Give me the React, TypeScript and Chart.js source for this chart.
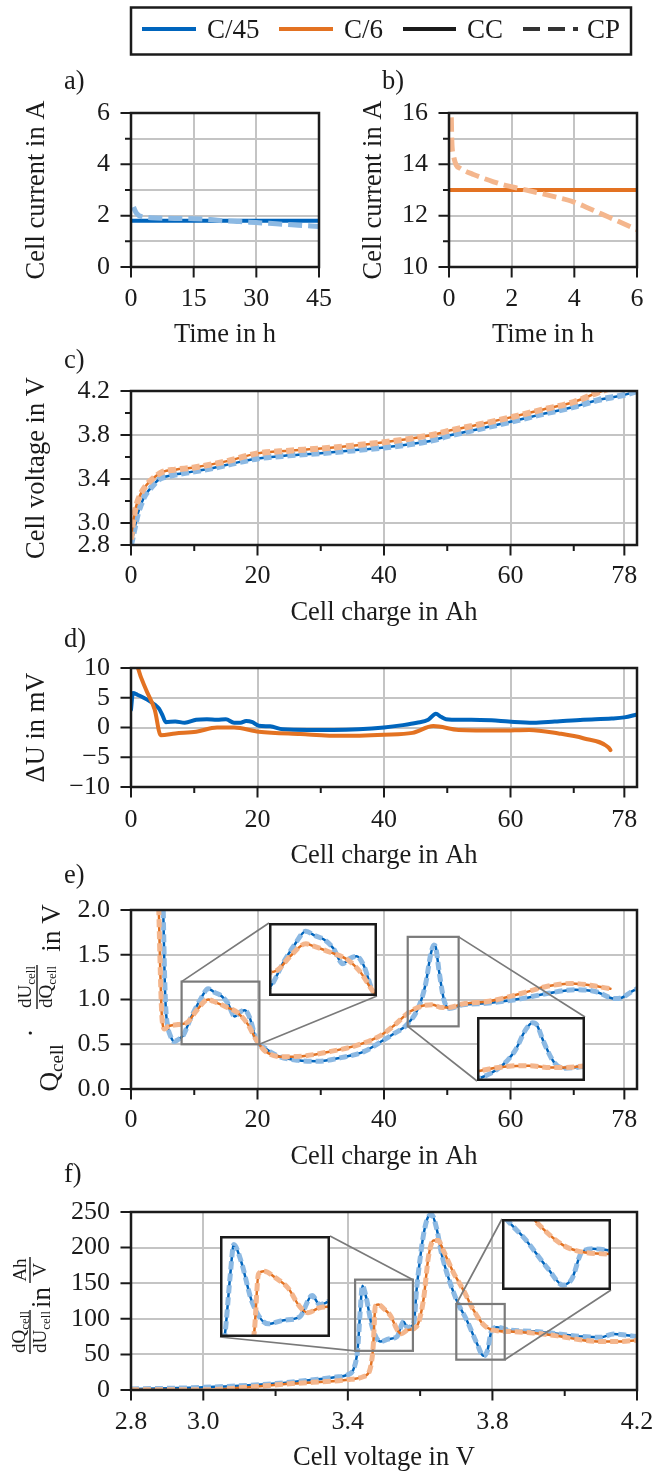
import React, { useEffect, useRef } from 'react';
import { Chart, registerables } from 'chart.js';

Chart.register(...registerables);

/* ================= data ================= */
// a) C/45: cell current (A) vs time (h)
const aTimeCC = [0, 45];
const aCurrentCC = [1.8, 1.8];
const aTimeCP = [0.6, 1.2, 1.8, 2.4, 3.5, 4.8, 8, 12, 15, 19, 22.3, 26, 29.9, 33, 36.7, 40, 43, 45];
const aCurrentCP = [2.34, 2.12, 2.02, 1.97, 1.94, 1.92, 1.9, 1.89, 1.88, 1.85, 1.8, 1.77, 1.73, 1.7, 1.66, 1.63, 1.6, 1.58];

// b) C/6: cell current (A) vs time (h)
const bTimeCC = [0, 6];
const bCurrentCC = [13, 13];
const bTimeCP = [0.05, 0.07, 0.09, 0.15, 0.23, 0.35, 0.49, 0.75, 1.0, 1.42, 1.8, 2.2, 2.6, 3.0, 3.5, 3.95, 4.4, 4.88, 5.4, 6.0];
const bCurrentCP = [16.6, 16.0, 14.9, 14.3, 13.97, 13.85, 13.75, 13.62, 13.5, 13.32, 13.18, 13.07, 12.96, 12.85, 12.7, 12.55, 12.32, 12.06, 11.78, 11.45];

// c) cell voltage (V) vs cell charge (Ah)
const cChargeC45 = [0, 0.3, 0.6, 1.1, 1.6, 2.1, 3.0, 3.75, 4.5, 5.4, 7, 9.7, 13, 16, 20, 25, 30, 35, 40, 44, 47.8, 50, 55, 60, 65, 70, 74, 78, 80];
const cVoltC45 = [2.8, 2.88, 2.96, 3.09, 3.17, 3.24, 3.31, 3.36, 3.4, 3.42, 3.44, 3.467, 3.5, 3.54, 3.587, 3.615, 3.635, 3.66, 3.687, 3.715, 3.753, 3.79, 3.855, 3.92, 3.99, 4.055, 4.12, 4.165, 4.2];
const cChargeC6 = [0, 0.3, 0.6, 1.0, 1.5, 2.0, 3.0, 4.0, 5.0, 7, 10, 15, 20, 25, 30, 35, 40, 44, 46, 48, 50, 55, 60, 65, 70, 74, 76];
const cVoltC6 = [2.85, 3.0, 3.1, 3.19, 3.26, 3.31, 3.38, 3.43, 3.465, 3.485, 3.505, 3.56, 3.633, 3.657, 3.677, 3.703, 3.735, 3.765, 3.785, 3.805, 3.835, 3.895, 3.96, 4.03, 4.1, 4.19, 4.23];

// d) ΔU (mV) vs cell charge (Ah)
const dChargeC45 = [0, 0.3, 1, 2, 3, 3.8, 4.4, 5.0, 5.5, 7, 8.5, 10.3, 12, 13.6, 15, 16.3, 17.3, 18.2, 19.2, 20.2, 22, 24, 28, 32, 36, 40, 43, 45.2, 47, 48.2, 49, 49.8, 52, 53.8, 57, 59.7, 63.6, 67, 71.5, 76, 78, 80];
const dDeltaC45 = [3.0, 5.8, 5.5, 5.0, 4.4, 3.8, 3.2, 2.0, 0.9, 1.0, 0.8, 1.3, 1.4, 1.3, 1.4, 0.8, 0.8, 1.1, 0.9, 0.3, 0.2, -0.3, -0.4, -0.4, -0.3, 0.0, 0.4, 0.8, 1.3, 2.3, 1.8, 1.4, 1.3, 1.3, 1.2, 1.0, 0.8, 1.0, 1.3, 1.5, 1.7, 2.2];
const dChargeC6 = [0.8, 1.1, 2.4, 3.75, 4.7, 7, 10.3, 13.6, 16.3, 20.2, 26.8, 33.4, 40, 44.5, 47.8, 51.8, 58.4, 63, 67.6, 71.5, 75.5, 75.8];
const dDeltaC6 = [11.5, 10, 6.3, 3.0, -1.3, -1.0, -0.7, 0.0, 0.0, -0.7, -1.1, -1.4, -1.2, -0.9, 0.25, -0.4, -0.5, -0.4, -1.0, -1.8, -3.35, -3.8];

// e) Q·dU/dQ (V) vs cell charge (Ah)
const eChargeC45 = [5.0, 5.1, 5.3, 5.5, 5.8, 6.2, 6.8, 7.4, 8.25, 9.56, 10.9, 12.2, 13.2, 14.3, 15.3, 16.4, 17.2, 18.0, 18.8, 19.8, 21.1, 23.2, 26.4, 29.5, 33.2, 36.9, 40, 41.6, 43.5, 45.5, 46.6, 47.4, 47.9, 48.2, 48.7, 49.5, 50.3, 52.4, 56.6, 61.8, 66, 70.2, 73.4, 76.5, 77.6, 79.2, 80];
const eValueC45 = [2.4, 2.0, 1.3, 0.9, 0.7, 0.6, 0.53, 0.55, 0.6, 0.81, 0.99, 1.12, 1.08, 1.04, 0.96, 0.81, 0.86, 0.88, 0.79, 0.55, 0.46, 0.37, 0.32, 0.31, 0.35, 0.42, 0.55, 0.62, 0.71, 0.92, 1.18, 1.51, 1.61, 1.58, 1.32, 0.99, 0.9, 0.94, 0.96, 1.01, 1.07, 1.11, 1.09, 1.01, 1.02, 1.09, 1.12];
const eChargeC6 = [4.3, 4.6, 4.85, 5.1, 5.3, 5.9, 7.46, 9.0, 10.4, 12.2, 13.0, 14.95, 16.9, 18.4, 19.8, 21.1, 23.7, 27.4, 31.6, 35.8, 39.5, 41.6, 44, 46.1, 47.6, 49.2, 50.3, 52.4, 56.6, 61.8, 66, 69.7, 73.4, 75.8];
const eValueC6 = [2.3, 1.4, 0.85, 0.69, 0.67, 0.7, 0.72, 0.75, 0.88, 1.0, 0.98, 0.92, 0.85, 0.73, 0.55, 0.43, 0.36, 0.37, 0.42, 0.49, 0.6, 0.71, 0.86, 0.93, 0.94, 0.91, 0.91, 0.95, 0.98, 1.07, 1.15, 1.18, 1.15, 1.12];

// f) dQ/dU (Ah/V) vs cell voltage (V)
const fVoltC45 = [2.8, 3.0, 3.2, 3.305, 3.363, 3.4, 3.415, 3.427, 3.435, 3.44, 3.45, 3.467, 3.49, 3.513, 3.536, 3.554, 3.565, 3.577, 3.583, 3.59, 3.6, 3.61, 3.622, 3.632, 3.645, 3.66, 3.7, 3.729, 3.757, 3.775, 3.786, 3.798, 3.812, 3.85, 3.913, 3.98, 4.05, 4.1, 4.135, 4.17, 4.2];
const fDqduC45 = [1.4, 3.7, 9, 14.5, 18, 21.5, 28.5, 57, 117, 146.5, 131.5, 89, 68, 71.6, 75, 96, 87, 90, 95, 140, 185, 220, 243, 246, 228, 190, 127, 98, 65.5, 48, 55, 84, 88, 84, 82.5, 79, 75, 74, 78.6, 77, 75];
const fVoltC6 = [2.8, 2.9, 3.016, 3.1, 3.247, 3.4, 3.444, 3.461, 3.47, 3.476, 3.484, 3.502, 3.519, 3.536, 3.548, 3.565, 3.59, 3.609, 3.623, 3.637, 3.65, 3.664, 3.692, 3.72, 3.747, 3.775, 3.802, 3.85, 3.913, 3.98, 4.05, 4.1, 4.15, 4.2];
const fDqduC6 = [0.2, 0.3, 0.5, 3, 9, 14.5, 19, 28.5, 61, 117.5, 120, 113, 103.5, 85, 79, 84, 89, 126, 187, 210, 210, 196, 165, 140, 113, 92, 84, 82, 80, 76, 70, 68, 68, 70];

// ticks / labels
const aXTicks = [0, 15, 30, 45];
const aXLabels = ['0', '15', '30', '45'];
const aYTicks = [0, 1, 2, 3, 4, 5, 6];
const aYLabels = ['0', '', '2', '', '4', '', '6'];
const bXTicks = [0, 2, 4, 6];
const bXLabels = ['0', '2', '4', '6'];
const bYTicks = [10, 11, 12, 13, 14, 15, 16];
const bYLabels = ['10', '', '12', '', '14', '', '16'];
const chargeTicks = [0, 10, 20, 30, 40, 50, 60, 70, 78];
const chargeLabels = ['0', '', '20', '', '40', '', '60', '', '78'];
const cYTicks = [2.8, 3.0, 3.2, 3.4, 3.6, 3.8, 4.0, 4.2];
const cYLabels = ['2.8', '3.0', '', '3.4', '', '3.8', '', '4.2'];
const dYTicks = [-10, -5, 0, 5, 10];
const dYLabels = ['\u221210', '\u22125', '0', '5', '10'];
const eYTicks = [0, 0.5, 1, 1.5, 2];
const eYLabels = ['0.0', '0.5', '1.0', '1.5', '2.0'];
const fXTicks = [2.8, 3.0, 3.2, 3.4, 3.6, 3.8, 4.0, 4.2];
const fXLabels = ['2.8', '3.0', '', '3.4', '', '3.8', '', '4.2'];
const fYTicks = [0, 50, 100, 150, 200, 250];
const fYLabels = ['0', '50', '100', '150', '200', '250'];

const legendLabels = ['C/45', 'C/6', 'CC', 'CP'];

/* ================= styles ================= */
const SERIF = "'Liberation Serif', 'Times New Roman', Times, serif";
const INK = '#1b1b1b';
const C45 = '#0065BD';
const C45_LIGHT = '#8CB9E3';
const C6 = '#E37222';
const C6_LIGHT = '#F4B68D';
const GRID = '#c4c4c4';
const MARK = '#7a7a7a';
const TICK_FS = 26;
const TITLE_FS = 26.5;
const TICK_LEN = 10;

Chart.defaults.font.family = SERIF;
Chart.defaults.color = INK;

type Box = { left: number; top: number; width: number; height: number };
type Axis = { min: number; max: number; ticks: number[]; labels: string[]; gridAll?: boolean };
type Line = { xs: number[]; ys: number[]; color: string; width: number; dash?: number[]; order: number };
type Run = { text: string; size: number; dy: number };
type Piece = { runs?: Run[]; bar?: number; x: number; y: number };
type Corner = 'tl' | 'tr' | 'bl' | 'br';
type Inset = { box: Box; x: [number, number]; y: [number, number]; links: [Corner, Corner][] };
type Panel = {
  id: string;
  canvas: Box;
  area: { l: number; t: number; r: number; b: number };
  x: Axis;
  y: Axis;
  xTitle: string;
  xLabelY: number;
  xTitleY: number;
  yTitle?: string;
  yTitleX?: number;
  rich?: Piece[];
  tag: { text: string; x: number; y: number };
  series: Line[];
  insets?: Inset[];
  legend?: boolean;
};

const quad = (x45: number[], y45: number[], x6: number[], y6: number[], cpW: number, ccW: number): Line[] => [
  { xs: x6, ys: y6, color: C6_LIGHT, width: cpW, dash: [8, 4], order: 0 },
  { xs: x6, ys: y6, color: C6, width: ccW, order: 1 },
  { xs: x45, ys: y45, color: C45_LIGHT, width: cpW, dash: [8, 4], order: 2 },
  { xs: x45, ys: y45, color: C45, width: ccW, order: 3 },
];

const chargeAxis: Axis = { min: 0, max: 80, ticks: chargeTicks, labels: chargeLabels };

const PANELS: Panel[] = [
  {
    id: 'a',
    canvas: { left: 0, top: 0, width: 653, height: 352 },
    area: { l: 131, t: 113, r: 319, b: 267 },
    x: { min: 0, max: 45, ticks: aXTicks, labels: aXLabels, gridAll: true },
    y: { min: 0, max: 6, ticks: aYTicks, labels: aYLabels, gridAll: true },
    xTitle: 'Time in h', xLabelY: 299, xTitleY: 335,
    yTitle: 'Cell current in A', yTitleX: 37,
    tag: { text: 'a)', x: 64, y: 82 },
    series: [
      { xs: aTimeCP, ys: aCurrentCP, color: C45_LIGHT, width: 5, dash: [14, 6], order: 0 },
      { xs: aTimeCC, ys: aCurrentCC, color: C45, width: 4, order: 1 },
    ],
    legend: true,
  },
  {
    id: 'b',
    canvas: { left: 318, top: 0, width: 335, height: 352 },
    area: { l: 449, t: 113, r: 637, b: 267 },
    x: { min: 0, max: 6, ticks: bXTicks, labels: bXLabels, gridAll: true },
    y: { min: 10, max: 16, ticks: bYTicks, labels: bYLabels, gridAll: true },
    xTitle: 'Time in h', xLabelY: 299, xTitleY: 335,
    yTitle: 'Cell current in A', yTitleX: 374,
    tag: { text: 'b)', x: 382, y: 82 },
    series: [
      { xs: bTimeCP, ys: bCurrentCP, color: C6_LIGHT, width: 5, dash: [14, 6], order: 0 },
      { xs: bTimeCC, ys: bCurrentCC, color: C6, width: 4, order: 1 },
    ],
  },
  {
    id: 'c',
    canvas: { left: 0, top: 340, width: 680, height: 292 },
    area: { l: 131, t: 391, r: 637, b: 545 },
    x: chargeAxis,
    y: { min: 2.8, max: 4.2, ticks: cYTicks, labels: cYLabels },
    xTitle: 'Cell charge in Ah', xLabelY: 576.5, xTitleY: 613,
    yTitle: 'Cell voltage in V', yTitleX: 37,
    tag: { text: 'c)', x: 64, y: 361 },
    series: quad(cChargeC45, cVoltC45, cChargeC6, cVoltC6, 6, 2.5),
  },
  {
    id: 'd',
    canvas: { left: 0, top: 622, width: 680, height: 252 },
    area: { l: 131, t: 668, r: 637, b: 787 },
    x: chargeAxis,
    y: { min: -10, max: 10, ticks: dYTicks, labels: dYLabels, gridAll: true },
    xTitle: 'Cell charge in Ah', xLabelY: 820, xTitleY: 856,
    yTitle: '\u0394U in mV', yTitleX: 37,
    tag: { text: 'd)', x: 64, y: 640 },
    series: [
      { xs: dChargeC6, ys: dDeltaC6, color: C6, width: 4, order: 0 },
      { xs: dChargeC45, ys: dDeltaC45, color: C45, width: 4, order: 1 },
    ],
  },
  {
    id: 'e',
    canvas: { left: 0, top: 860, width: 680, height: 318 },
    area: { l: 131, t: 910, r: 637, b: 1089 },
    x: chargeAxis,
    y: { min: 0, max: 2, ticks: eYTicks, labels: eYLabels, gridAll: true },
    xTitle: 'Cell charge in Ah', xLabelY: 1120, xTitleY: 1157,
    rich: [
      { runs: [{ text: 'Q', size: 27, dy: 0 }, { text: 'cell', size: 19, dy: 5 }], x: 58, y: 1068 },
      { runs: [{ text: '\u00b7', size: 27, dy: 0 }], x: 40, y: 1033 },
      { runs: [{ text: 'dU', size: 19, dy: 0 }, { text: 'cell', size: 13, dy: 4 }], x: 31, y: 987 },
      { bar: 44, x: 37, y: 987 },
      { runs: [{ text: 'dQ', size: 19, dy: 0 }, { text: 'cell', size: 13, dy: 4 }], x: 52, y: 987 },
      { runs: [{ text: 'in V', size: 27, dy: 0 }], x: 60, y: 928 },
    ],
    tag: { text: 'e)', x: 64, y: 876 },
    series: quad(eChargeC45, eValueC45, eChargeC6, eValueC6, 5, 2.5),
    insets: [
      { box: { left: 269, top: 923, width: 108, height: 73 }, x: [8, 20.3], y: [0.5, 1.2], links: [['tl', 'tl'], ['br', 'br']] },
      { box: { left: 477, top: 1017, width: 108, height: 64 }, x: [43.75, 51.8], y: [0.7, 1.7], links: [['tr', 'tr'], ['bl', 'bl']] },
    ],
  },
  {
    id: 'f',
    canvas: { left: 0, top: 1158, width: 680, height: 330 },
    area: { l: 131, t: 1212, r: 637, b: 1390 },
    x: { min: 2.8, max: 4.2, ticks: fXTicks, labels: fXLabels },
    y: { min: 0, max: 250, ticks: fYTicks, labels: fYLabels, gridAll: true },
    xTitle: 'Cell voltage in V', xLabelY: 1421.7, xTitleY: 1458.3,
    rich: [
      { runs: [{ text: 'dQ', size: 19, dy: 0 }, { text: 'cell', size: 13, dy: 4 }], x: 25, y: 1332 },
      { bar: 44, x: 30, y: 1332 },
      { runs: [{ text: 'dU', size: 19, dy: 0 }, { text: 'cell', size: 13, dy: 4 }], x: 46, y: 1332 },
      { runs: [{ text: 'in', size: 27, dy: 0 }], x: 50, y: 1297.5 },
      { runs: [{ text: 'Ah', size: 19, dy: 0 }], x: 26, y: 1270 },
      { bar: 26, x: 30, y: 1270 },
      { runs: [{ text: 'V', size: 19, dy: 0 }], x: 46, y: 1270 },
    ],
    tag: { text: 'f)', x: 64, y: 1175 },
    series: quad(fVoltC45, fDqduC45, fVoltC6, fDqduC6, 5, 2.5),
    insets: [
      { box: { left: 220, top: 1236, width: 110, height: 101 }, x: [3.42, 3.58], y: [55, 155], links: [['tr', 'tr'], ['bl', 'bl']] },
      { box: { left: 502, top: 1219, width: 109, height: 71 }, x: [3.7, 3.834], y: [42.6, 120.8], links: [['tl', 'tl'], ['br', 'br']] },
    ],
  },
];

const LEGEND_BOX = { l: 131, t: 7.5, r: 631, b: 54.5 };
const LEGEND_ROWS = [
  { x0: 142, x1: 196, tx: 207, color: C45, dash: [] as number[] },
  { x0: 279, x1: 333, tx: 344, color: C6, dash: [] as number[] },
  { x0: 403, x1: 456, tx: 467, color: INK, dash: [] as number[] },
  { x0: 523, x1: 578, tx: 587, color: '#333333', dash: [17, 8] },
];

/* ================= helpers ================= */
const makeDatasets = (lines: Line[]) =>
  lines.map((s) => ({
    data: s.xs.map((x, i) => ({ x, y: s.ys[i] })),
    borderColor: s.color,
    borderWidth: s.width,
    borderDash: s.dash || [],
    borderCapStyle: s.dash ? 'butt' : 'round',
    borderJoinStyle: 'round',
    pointRadius: 0,
    pointHoverRadius: 0,
    fill: false,
    cubicInterpolationMode: 'monotone',
    order: s.order,
    clip: 0,
  }));

function drawPieces(ctx: CanvasRenderingContext2D, pieces: Piece[], offL: number, offT: number) {
  pieces.forEach((pc) => {
    ctx.save();
    ctx.translate(pc.x - offL, pc.y - offT);
    ctx.rotate(-Math.PI / 2);
    if (pc.bar) {
      ctx.strokeStyle = INK;
      ctx.lineWidth = 1.4;
      ctx.beginPath();
      ctx.moveTo(-pc.bar / 2, 0);
      ctx.lineTo(pc.bar / 2, 0);
      ctx.stroke();
    } else if (pc.runs) {
      const widths = pc.runs.map((r) => {
        ctx.font = `${r.size}px ${SERIF}`;
        return ctx.measureText(r.text).width;
      });
      const total = widths.reduce((a, b) => a + b, 0);
      let u = -total / 2;
      ctx.fillStyle = INK;
      ctx.textAlign = 'left';
      ctx.textBaseline = 'alphabetic';
      pc.runs.forEach((r, i) => {
        ctx.font = `${r.size}px ${SERIF}`;
        ctx.fillText(r.text, u, r.dy);
        u += widths[i];
      });
    }
    ctx.restore();
  });
}

function decorPlugin(p: Panel) {
  return {
    id: 'decor_' + p.id,
    afterDraw(chart: any) {
      const ctx: CanvasRenderingContext2D = chart.ctx;
      const { left, top, right, bottom } = chart.chartArea;
      const sx = chart.scales.x;
      const sy = chart.scales.y;
      ctx.save();
      // tick marks
      ctx.strokeStyle = INK;
      ctx.lineWidth = 2;
      ctx.setLineDash([]);
      ctx.beginPath();
      p.x.ticks.forEach((v, i) => {
        const px = sx.getPixelForValue(v);
        const len = p.x.labels[i] ? 10.5 : 6;
        ctx.moveTo(px, bottom);
        ctx.lineTo(px, bottom + len);
      });
      p.y.ticks.forEach((v, i) => {
        const py = sy.getPixelForValue(v);
        const len = p.y.labels[i] ? 10.5 : 6;
        ctx.moveTo(left, py);
        ctx.lineTo(left - len, py);
      });
      ctx.stroke();
      // inset markers and connectors
      (p.insets || []).forEach((ins) => {
        const x0 = sx.getPixelForValue(ins.x[0]);
        const x1 = sx.getPixelForValue(ins.x[1]);
        const y0 = sy.getPixelForValue(ins.y[0]);
        const y1 = sy.getPixelForValue(ins.y[1]);
        ctx.strokeStyle = MARK;
        ctx.lineWidth = 2.2;
        ctx.strokeRect(x0, y1, x1 - x0, y0 - y1);
        const il = ins.box.left - p.canvas.left;
        const it = ins.box.top - p.canvas.top;
        const ir = il + ins.box.width;
        const ib = it + ins.box.height;
        const mc: Record<Corner, number[]> = { tl: [x0, y1], tr: [x1, y1], bl: [x0, y0], br: [x1, y0] };
        const ic: Record<Corner, number[]> = { tl: [il, it], tr: [ir, it], bl: [il, ib], br: [ir, ib] };
        ctx.lineWidth = 1.7;
        ctx.beginPath();
        ins.links.forEach(([a, b]) => {
          ctx.moveTo(mc[a][0], mc[a][1]);
          ctx.lineTo(ic[b][0], ic[b][1]);
        });
        ctx.stroke();
      });
      // frame
      ctx.strokeStyle = INK;
      ctx.lineWidth = 2.5;
      ctx.strokeRect(left, top, right - left, bottom - top);
      // panel tag
      ctx.fillStyle = INK;
      ctx.font = `${TITLE_FS}px ${SERIF}`;
      ctx.textAlign = 'left';
      ctx.textBaseline = 'middle';
      ctx.fillText(p.tag.text, p.tag.x - p.canvas.left, p.tag.y - p.canvas.top);
      // rich y label
      if (p.rich) drawPieces(ctx, p.rich, p.canvas.left, p.canvas.top);
      // legend
      if (p.legend) {
        const ox = p.canvas.left;
        const oy = p.canvas.top;
        ctx.strokeStyle = INK;
        ctx.lineWidth = 2.5;
        ctx.strokeRect(LEGEND_BOX.l - ox, LEGEND_BOX.t - oy, LEGEND_BOX.r - LEGEND_BOX.l, LEGEND_BOX.b - LEGEND_BOX.t);
        const ly = (LEGEND_BOX.t + LEGEND_BOX.b) / 2 - 2 - oy;
        LEGEND_ROWS.forEach((row, i) => {
          ctx.strokeStyle = row.color;
          ctx.lineWidth = 4;
          ctx.lineCap = 'butt';
          ctx.setLineDash(row.dash);
          ctx.beginPath();
          ctx.moveTo(row.x0 - ox, ly);
          ctx.lineTo(row.x1 - ox, ly);
          ctx.stroke();
          ctx.setLineDash([]);
          ctx.fillStyle = INK;
          ctx.font = `27px ${SERIF}`;
          ctx.textAlign = 'left';
          ctx.textBaseline = 'middle';
          ctx.fillText(legendLabels[i], row.tx - ox, ly + 2);
        });
      }
      ctx.restore();
    },
  };
}

function panelConfig(p: Panel): any {
  const L = p.canvas.left;
  const T = p.canvas.top;
  const W = p.canvas.width;
  const H = p.canvas.height;
  const l = p.area.l - L;
  const t = p.area.t - T;
  const r = p.area.r - L;
  const b = p.area.b - T;
  const tickLH = TICK_FS * 1.2;
  const titleLH = TITLE_FS * 1.2;
  const xTickPad = p.xLabelY - T - b - TICK_LEN - tickLH / 2;
  const xTitlePadB = H - (p.xTitleY - T) - titleLH / 2;
  const yTitlePadT = (p.yTitleX || 0) - L - titleLH / 2;
  const gridColor = (ax: Axis) => (c: any) => {
    const i = c.index;
    const on = ax.gridAll ? true : ax.labels[i] !== '';
    return on ? GRID : 'rgba(0,0,0,0)';
  };
  const axisCommon = (ax: Axis) => ({
    type: 'linear',
    min: ax.min,
    max: ax.max,
    afterBuildTicks: (s: any) => {
      s.ticks = ax.ticks.map((v) => ({ value: v }));
    },
    grid: {
      color: gridColor(ax),
      lineWidth: 2,
      drawTicks: true,
      tickLength: TICK_LEN,
      tickColor: 'rgba(0,0,0,0)',
    },
    border: { display: false },
  });
  return {
    type: 'line',
    data: { datasets: makeDatasets(p.series) },
    options: {
      animation: false,
      responsive: false,
      maintainAspectRatio: false,
      devicePixelRatio: 1,
      events: [],
      layout: { padding: { left: 0, top: t, right: W - r, bottom: 0 } },
      plugins: { legend: { display: false }, tooltip: { enabled: false }, title: { display: false } },
      scales: {
        x: {
          ...axisCommon(p.x),
          position: 'bottom',
          afterFit: (s: any) => {
            s.height = H - b;
          },
          ticks: {
            autoSkip: false,
            maxRotation: 0,
            minRotation: 0,
            padding: xTickPad,
            color: INK,
            font: { family: SERIF, size: TICK_FS, lineHeight: 1.2 },
            callback: (_v: any, i: number) => p.x.labels[i],
          },
          title: {
            display: true,
            text: p.xTitle,
            color: INK,
            font: { family: SERIF, size: TITLE_FS, lineHeight: 1.2 },
            padding: { top: 0, bottom: xTitlePadB },
          },
        },
        y: {
          ...axisCommon(p.y),
          position: 'left',
          afterFit: (s: any) => {
            s.width = l;
          },
          ticks: {
            autoSkip: false,
            padding: 11,
            color: INK,
            font: { family: SERIF, size: TICK_FS, lineHeight: 1.2 },
            callback: (_v: any, i: number) => p.y.labels[i],
          },
          title: {
            display: !!p.yTitle,
            text: p.yTitle || '',
            color: INK,
            font: { family: SERIF, size: TITLE_FS, lineHeight: 1.2 },
            padding: { top: yTitlePadT, bottom: 0 },
          },
        },
      },
    },
    plugins: [decorPlugin(p)],
  };
}

function insetConfig(p: Panel, ins: Inset, k: number): any {
  return {
    type: 'line',
    data: { datasets: makeDatasets(p.series) },
    options: {
      animation: false,
      responsive: false,
      maintainAspectRatio: false,
      devicePixelRatio: 1,
      events: [],
      layout: { padding: 0 },
      plugins: { legend: { display: false }, tooltip: { enabled: false } },
      scales: {
        x: { type: 'linear', display: false, min: ins.x[0], max: ins.x[1] },
        y: { type: 'linear', display: false, min: ins.y[0], max: ins.y[1] },
      },
    },
    plugins: [
      {
        id: 'inset_' + p.id + k,
        beforeDraw(chart: any) {
          const ctx = chart.ctx;
          ctx.save();
          ctx.fillStyle = '#ffffff';
          ctx.fillRect(0, 0, chart.width, chart.height);
          ctx.restore();
        },
        afterDraw(chart: any) {
          const ctx = chart.ctx;
          ctx.save();
          ctx.strokeStyle = INK;
          ctx.lineWidth = 2.5;
          ctx.setLineDash([]);
          ctx.strokeRect(1.25, 1.25, chart.width - 2.5, chart.height - 2.5);
          ctx.restore();
        },
      },
    ],
  };
}

function ChartCanvas({ box, make }: { box: Box; make: () => any }) {
  const ref = useRef<HTMLCanvasElement>(null);
  useEffect(() => {
    if (!ref.current) return;
    const chart = new Chart(ref.current, make());
    return () => chart.destroy();
  }, []);
  return (
    <canvas
      ref={ref}
      width={box.width}
      height={box.height}
      style={{ position: 'absolute', left: box.left, top: box.top, width: box.width, height: box.height, display: 'block' }}
    />
  );
}

export default function App() {
  return (
    <div style={{ position: 'absolute', left: 0, top: 0, width: 653, height: 1472, overflow: 'hidden', background: '#ffffff' }}>
      {PANELS.map((p) => (
        <ChartCanvas key={p.id} box={p.canvas} make={() => panelConfig(p)} />
      ))}
      {PANELS.flatMap((p) =>
        (p.insets || []).map((ins, k) => (
          <ChartCanvas key={p.id + '_in' + k} box={ins.box} make={() => insetConfig(p, ins, k)} />
        ))
      )}
    </div>
  );
}
